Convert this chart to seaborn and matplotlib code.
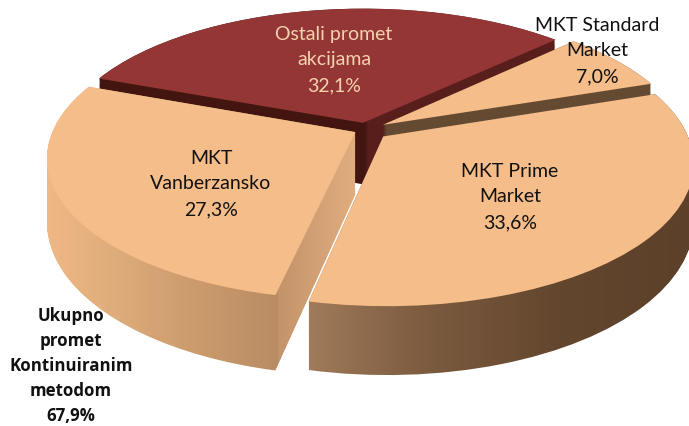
import numpy as np
import matplotlib
matplotlib.use('Agg')
import matplotlib.pyplot as plt
import seaborn as sns
from matplotlib.colors import to_rgb
from matplotlib.path import Path
from matplotlib.transforms import Transform

# data
names = ['Ostali promet\nakcijama', 'MKT Standard\nMarket', 'MKT Prime\nMarket', 'MKT\nVanberzansko']
shares = [32.1, 7.0, 33.6, 27.3]
total_name = 'Ukupno\npromet\nKontinuiranim\nmetodom'
total_share = 67.9

# look of the slices
explode = [0.05, 0.066, 0.076, 0.04]
depth = [62, 56, 56, 62]
top_colors = ['#933635', '#f5bd8a', '#f5bd8a', '#f5bd8a']
side_stops = [
    [(100, '#421510'), (364, '#421510'), (368, '#581e1c'), (560, '#581e1c')],
    [(380, '#654a32'), (650, '#654a32')],
    [(310, '#a07a5a'), (420, '#7d5c40'), (560, '#63462e'), (690, '#5c4029')],
    [(48, '#efb986'), (180, '#cf9e6f'), (276, '#b98c63'), (279, '#c4946a'), (355, '#e0ad7e')],
]
label_pos = [(334, 60), (597, 51), (510, 197), (211, 184)]
label_colors = ['#f6d2ae', '#111111', '#111111', '#111111']


class Tilt(Transform):
    # flat pie -> picture pixels, back of the pie comes out smaller
    input_dims = 2
    output_dims = 2

    def __init__(self, z=0.0):
        super().__init__()
        self.z = z

    def transform_non_affine(self, xy):
        xy = np.asarray(xy, dtype=float)
        s = 1 / (1 + 0.178 * xy[:, 1])
        return np.column_stack((366 + 302 * xy[:, 0] * s,
                                130.5 - 136.7 * xy[:, 1] * s + self.z * s))


sns.set_theme(style='white')
plt.rcParams['font.family'] = ['Lato', 'DejaVu Sans']

fig = plt.figure(figsize=(6.89, 4.27), dpi=100)
ax = fig.add_axes([0, 0, 1, 1])

wedges, _ = ax.pie(shares, explode=explode, startangle=159.5, counterclock=False,
                   colors=top_colors, wedgeprops={'linewidth': 0})

xx = np.arange(689)
draw_order = [0, 1, 3, 2]  # van before prime
for n, i in enumerate(draw_order):
    w = wedges[i]
    # side wall: gradient clipped to the stack of the slice shape
    base = w.get_path()
    stack = [Tilt(z).transform_path(base) for z in np.linspace(0, depth[i], 50)]
    xs = [p[0] for p in side_stops[i]]
    rgb = np.array([to_rgb(p[1]) for p in side_stops[i]])
    grad = np.stack([np.interp(xx, xs, rgb[:, c]) for c in range(3)], axis=1)[np.newaxis, :, :]
    im = ax.imshow(grad, extent=(0, 689, 427, 0), aspect='auto', zorder=2 * n + 1)
    im.set_clip_path(Path.make_compound_path(*stack), ax.transData)
    w.set_transform(Tilt(0.0) + ax.transData)
    w.set_zorder(2 * n + 2)

ax.set_aspect('auto')
ax.set_xlim(0, 689)
ax.set_ylim(427, 0)
ax.axis('off')

for name, share, pos, col in zip(names, shares, label_pos, label_colors):
    txt = name + '\n' + f'{share:.1f}%'.replace('.', ',')
    ax.text(pos[0], pos[1], txt, ha='center', va='center', fontsize=14, color=col,
            linespacing=1.6, zorder=20)

ax.text(71, 366, total_name + '\n' + f'{total_share:.1f}%'.replace('.', ','), ha='center', va='center',
        fontsize=12.2, fontweight='bold', family=['Open Sans', 'DejaVu Sans'], color='#111111',
        linespacing=1.5, zorder=20)

fig.savefig('out.png', dpi=100)
